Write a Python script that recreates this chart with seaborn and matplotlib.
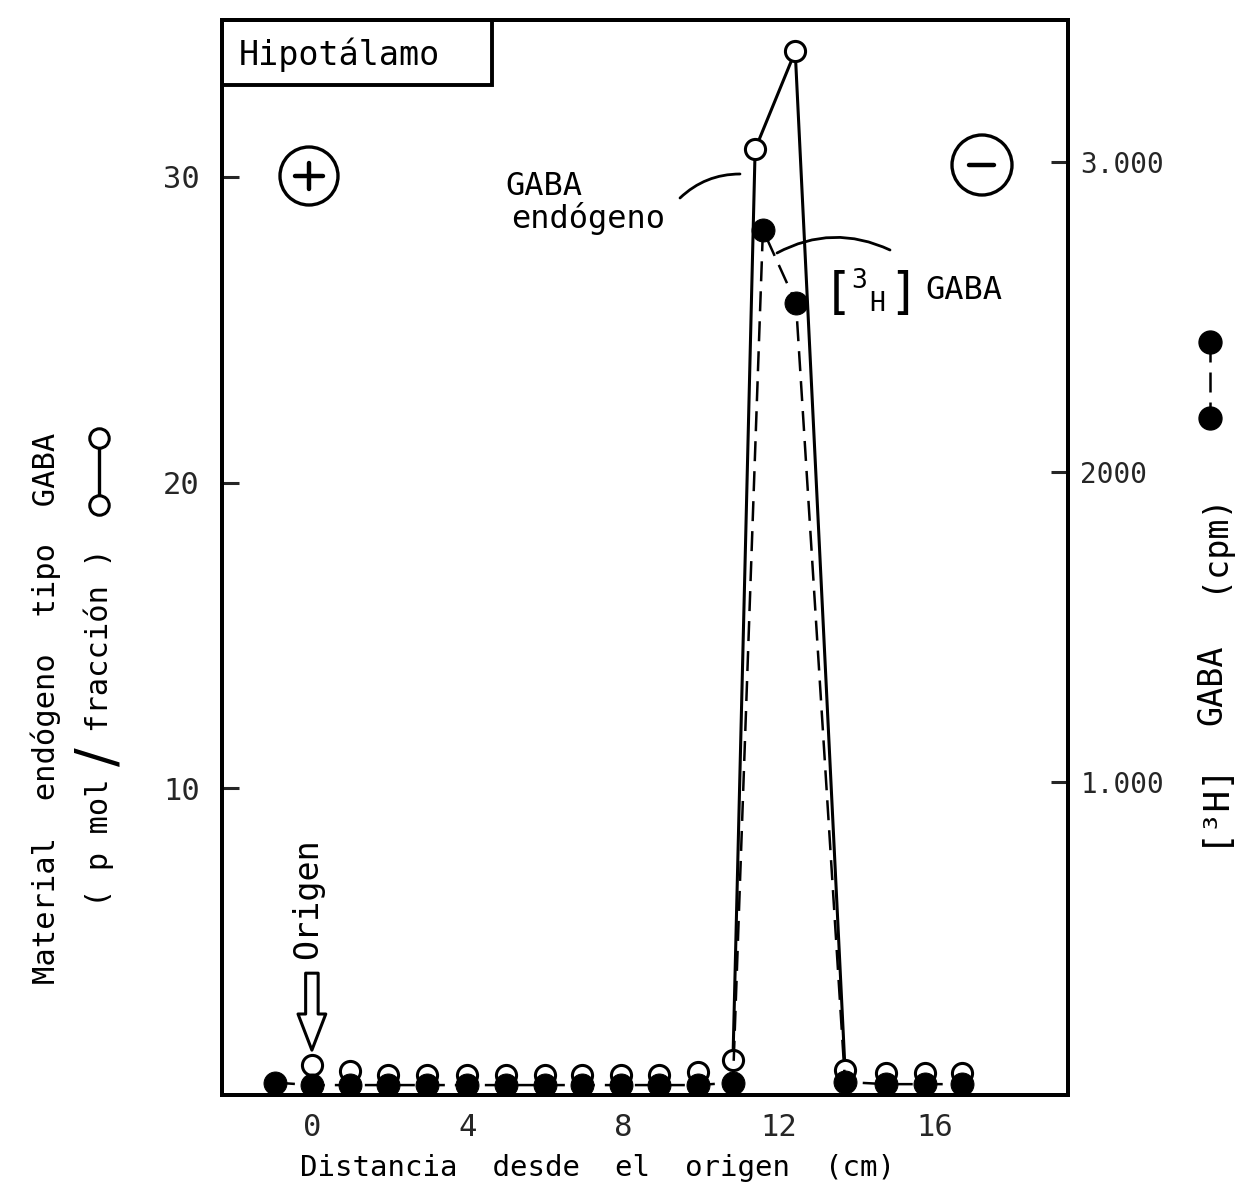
import matplotlib
matplotlib.use("Agg")
import matplotlib.pyplot as plt
import seaborn as sns
from matplotlib.patches import Rectangle, Ellipse
from matplotlib.lines import Line2D

# Endogenous GABA-like material (pmol / fraction), open circles, left axis
endo_cm = [0.0, 0.98, 1.95, 2.96, 3.99, 4.99, 5.99, 6.94, 7.94, 8.92, 9.92,
           10.82, 11.39, 12.42, 13.70, 14.76, 15.76, 16.71]
endo_pmol = [0.95, 0.75, 0.62, 0.62, 0.62, 0.62, 0.64, 0.64, 0.64, 0.64, 0.72,
             1.10, 30.9, 34.1, 0.80, 0.68, 0.68, 0.68]
# indices of the joined peak segment (solid line)
peak_idx = [11, 12, 13, 14]

# [3H] GABA radioactivity (cpm), filled circles, right axis
tritium_cm = [-0.95, 0.0, 0.98, 1.95, 2.96, 3.99, 4.99, 5.99, 6.94, 7.94, 8.92,
              9.92, 10.82, 11.59, 12.44, 13.70, 14.76, 15.76, 16.71]
tritium_cpm = [30, 22, 22, 22, 22, 22, 22, 22, 22, 22, 22,
               22, 30, 2781, 2545, 32, 25, 25, 25]

x_ticks = [0, 4, 8, 12, 16]
left_ticks = [10, 20, 30]
right_ticks = [1000, 2000, 3000]
right_tick_labels = ["1.000", "2000", "3.000"]

sns.set_style("white")
plt.rcParams["font.family"] = ["DejaVu Sans Mono", "DejaVu Sans"]
plt.rcParams["text.color"] = "black"

W_PX, H_PX = 1249, 1188
AX_L, AX_R, AX_T, AX_B = 222, 1068, 20, 1095

fig = plt.figure(figsize=(W_PX / 100, H_PX / 100), dpi=100)
ax = fig.add_axes([AX_L / W_PX, 1 - AX_B / H_PX,
                   (AX_R - AX_L) / W_PX, (AX_B - AX_T) / H_PX])
ax2 = ax.twinx()


def af(px, py):
    """pixel position -> axes fraction"""
    return ((px - AX_L) / (AX_R - AX_L), (AX_B - py) / (AX_B - AX_T))


def ff(px, py):
    """pixel position -> figure fraction"""
    return (px / W_PX, 1 - py / H_PX)


LW = 2.2
DASH = (0, (8, 4))

# open circles + solid peak line
sns.lineplot(x=[endo_cm[i] for i in peak_idx], y=[endo_pmol[i] for i in peak_idx],
             ax=ax, color="black", lw=LW, sort=False, estimator=None, zorder=2)
sns.scatterplot(x=endo_cm, y=endo_pmol, ax=ax, s=210, color="white",
                edgecolor="black", linewidth=2.2, zorder=3)

# filled circles + dashed line
sns.lineplot(x=tritium_cm, y=tritium_cpm, ax=ax2, color="black", lw=1.8,
             linestyle=DASH, marker="o", markersize=16.5,
             markerfacecolor="black", markeredgecolor="black",
             sort=False, estimator=None, zorder=3)

ax.set_xlim(-2.31, 19.43)
ax.set_ylim(-0.03, 35.13)
ax2.set_ylim(-10, 3458)

ax.set_xticks(x_ticks)
ax.set_xticklabels([str(t) for t in x_ticks])
ax.set_yticks(left_ticks)
ax.set_yticklabels([str(t) for t in left_ticks])
ax2.set_yticks(right_ticks)
ax2.set_yticklabels(right_tick_labels)

ax.tick_params(axis="x", length=0, pad=13, labelsize=22)
ax.tick_params(axis="y", direction="in", length=12, width=2.2, pad=16,
               labelsize=22)
ax2.tick_params(axis="y", direction="in", length=12, width=2.2, pad=9,
                labelsize=20)
ax.set_xlabel("")
ax.set_ylabel("")
ax2.set_ylabel("")

for a in (ax, ax2):
    for s in a.spines.values():
        s.set_linewidth(2.8)
        s.set_color("black")
ax.grid(False)
ax2.grid(False)

# x-axis label
fig.text(*ff(597, 1168), "Distancia  desde  el  origen  (cm)", fontsize=21,
         ha="center", va="center")

# panel title box
bx0, by0 = af(AX_L, 85)
bx1, by1 = af(492, AX_T)
ax.add_patch(Rectangle((bx0, by0), bx1 - bx0, by1 - by0, transform=ax.transAxes,
                       fill=False, lw=2.8, edgecolor="black", clip_on=False,
                       zorder=5))
ax.text(*af(339, 55), "Hipotálamo", transform=ax.transAxes, fontsize=24,
        ha="center", va="center")

# electrode signs
for (cx, cy, d) in [(309, 176, 58), (982, 165, 60)]:
    ex, ey = af(cx, cy)
    ax.add_patch(Ellipse((ex, ey), d / (AX_R - AX_L), d / (AX_B - AX_T),
                         transform=ax.transAxes, fill=False, lw=2.4,
                         edgecolor="black"))
for (x0, y0, x1, y1) in [(295, 176, 323, 176), (309, 163, 309, 189),
                         (969, 165, 994, 165)]:
    ax.add_line(Line2D([af(x0, y0)[0], af(x1, y1)[0]],
                       [af(x0, y0)[1], af(x1, y1)[1]],
                       transform=ax.transAxes, color="black", lw=3.2,
                       solid_capstyle="round"))

# peak labels with leader curves
ax.text(*af(505, 195), "GABA", transform=ax.transAxes, fontsize=23,
        ha="left", va="baseline")
ax.text(*af(511, 228), "endógeno", transform=ax.transAxes, fontsize=23,
        ha="left", va="baseline")
ax.annotate("", xy=af(740, 174), xytext=af(680, 198), xycoords="axes fraction",
            textcoords="axes fraction",
            arrowprops=dict(arrowstyle="-", lw=2.0, color="black",
                            connectionstyle="arc3,rad=-0.2",
                            shrinkA=0, shrinkB=0))
ax.annotate("", xy=af(890, 250), xytext=af(777, 253), xycoords="axes fraction",
            textcoords="axes fraction",
            arrowprops=dict(arrowstyle="-", lw=2.0, color="black",
                            connectionstyle="arc3,rad=-0.25",
                            shrinkA=0, shrinkB=0))
ax.text(*af(840, 294), "[", transform=ax.transAxes, fontsize=36,
        family="DejaVu Sans", ha="center", va="center")
ax.text(*af(859, 281), "3", transform=ax.transAxes, fontsize=19,
        ha="center", va="center")
ax.text(*af(877, 304), "H", transform=ax.transAxes, fontsize=19,
        ha="center", va="center")
ax.text(*af(902, 294), "]", transform=ax.transAxes, fontsize=36,
        family="DejaVu Sans", ha="center", va="center")
ax.text(*af(925, 299), "GABA", transform=ax.transAxes, fontsize=23,
        ha="left", va="baseline")

# origin marker
ax.text(-0.1, 6.4, "Origen", rotation=90, fontsize=24, ha="center",
        va="center")
ax.annotate("", xy=(0.0, (1096 - 1052) / 30.6), xytext=(0.0, (1096 - 975) / 30.6),
            arrowprops=dict(arrowstyle="simple,head_width=1.0,head_length=1.3,tail_width=0.45",
                            fc="white", ec="black", lw=2.2, mutation_scale=20,
                            shrinkA=0, shrinkB=0))

# left axis title with series key
fig.text(*ff(46, 708), "Material  endógeno  tipo  GABA", rotation=90,
         fontsize=22, ha="center", va="center")
fig.text(*ff(100, 843), "( p mol", rotation=90, fontsize=22, ha="center",
         va="center")
fig.text(*ff(100, 757), "/", rotation=90, fontsize=40, family="DejaVu Sans",
         ha="center", va="center")
fig.text(*ff(100, 640), "fracción )", rotation=90, fontsize=22, ha="center",
         va="center")
fig.add_artist(Line2D([ff(99, 438)[0], ff(99, 505)[0]],
                      [ff(99, 438)[1], ff(99, 505)[1]],
                      transform=fig.transFigure, color="black", lw=2.4,
                      marker="o", markersize=14, markerfacecolor="white",
                      markeredgecolor="black", markeredgewidth=2.2))

# right axis title with series key
fig.text(*ff(1212, 542), "(cpm)", rotation=90, fontsize=24, ha="center",
         va="center")
fig.text(*ff(1212, 685), "GABA", rotation=90, fontsize=24, ha="center",
         va="center")
fig.text(*ff(1212, 802), "[³H]", rotation=90, fontsize=26, ha="center",
         va="center")
fig.add_artist(Line2D([ff(1210, 342)[0], ff(1210, 418)[0]],
                      [ff(1210, 342)[1], ff(1210, 418)[1]],
                      transform=fig.transFigure, color="black", lw=1.8,
                      linestyle=DASH, marker="o", markersize=16.5,
                      markerfacecolor="black", markeredgecolor="black"))

fig.savefig("out.png", dpi=100)
